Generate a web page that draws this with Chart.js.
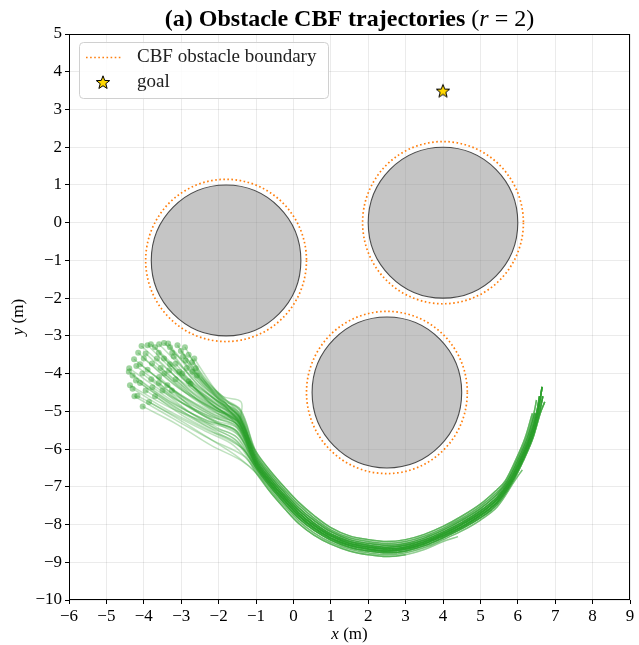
<!DOCTYPE html>
<html>
<head>
<meta charset="utf-8">
<script src="https://cdn.jsdelivr.net/npm/chart.js@4.4.1/dist/chart.umd.min.js"></script>
<style>
  html, body { margin: 0; padding: 0; background: #fff; }
  canvas { display: block; }
</style>
</head>
<body>
<canvas id="chart" width="639" height="645"></canvas>
<script>
// axes
const xRange = [-6, 9];
const yRange = [-10, 5];

// obstacles (centre, radius) and the CBF boundary around them
const obstacleX = [-1.8, 4, 2.5];
const obstacleY = [-1, 0, -4.5];
const obstacleR = [2, 2, 2];
const boundaryR = [2.15, 2.15, 2.15];

const goal = [4, 3.5];

// end parts of the trajectories (the long arc)
const tails = [
  // 0 centre of the band
  [[-1.0,-6.35],[-0.6,-6.88],[-0.25,-7.28],[0.15,-7.7],[0.55,-8.02],[1.0,-8.3],[1.5,-8.5],[2.0,-8.6],[2.5,-8.65],[3.0,-8.6],[3.5,-8.46],[4.0,-8.25],[4.5,-8.0],[5.0,-7.7],[5.45,-7.33],[5.8,-6.85],[6.08,-6.3],[6.33,-5.72],[6.53,-5.05],[6.65,-4.35]],
  // 1 inner +1
  [[-1.0,-6.28],[-0.6,-6.81],[-0.25,-7.21],[0.15,-7.63],[0.55,-7.96],[1.0,-8.25],[1.5,-8.45],[2.0,-8.55],[2.5,-8.6],[3.0,-8.55],[3.5,-8.41],[4.0,-8.2],[4.5,-7.95],[5.0,-7.64],[5.45,-7.27],[5.77,-6.85],[6.05,-6.3],[6.3,-5.72],[6.5,-5.05],[6.58,-4.6]],
  // 2 outer -1
  [[-1.0,-6.42],[-0.6,-6.95],[-0.25,-7.35],[0.15,-7.77],[0.55,-8.09],[1.0,-8.36],[1.5,-8.55],[2.0,-8.65],[2.5,-8.7],[3.0,-8.65],[3.5,-8.51],[4.0,-8.3],[4.5,-8.06],[5.0,-7.76],[5.45,-7.4],[5.84,-6.85],[6.12,-6.3],[6.37,-5.72],[6.57,-5.05],[6.67,-4.6]],
  // 3 inner +2
  [[-1.0,-6.21],[-0.6,-6.74],[-0.25,-7.14],[0.15,-7.56],[0.55,-7.89],[1.0,-8.19],[1.5,-8.4],[2.0,-8.5],[2.5,-8.55],[3.0,-8.5],[3.5,-8.36],[4.0,-8.15],[4.5,-7.89],[5.0,-7.58],[5.45,-7.2],[5.73,-6.85],[6.01,-6.3],[6.26,-5.72],[6.46,-5.05]],
  // 4 outer -2
  [[-1.0,-6.49],[-0.6,-7.02],[-0.25,-7.42],[0.15,-7.84],[0.55,-8.15],[1.0,-8.41],[1.5,-8.6],[2.0,-8.7],[2.5,-8.75],[3.0,-8.7],[3.5,-8.56],[4.0,-8.35],[4.5,-8.11],[5.0,-7.82],[5.45,-7.46],[5.87,-6.85],[6.15,-6.3],[6.4,-5.72],[6.6,-5.05],[6.72,-4.75]],
  // 5 inner +3
  [[-1.0,-6.14],[-0.6,-6.67],[-0.25,-7.07],[0.15,-7.49],[0.55,-7.83],[1.0,-8.14],[1.5,-8.35],[2.0,-8.45],[2.5,-8.5],[3.0,-8.45],[3.5,-8.31],[4.0,-8.1],[4.5,-7.84],[5.0,-7.52],[5.45,-7.14],[5.7,-6.85],[5.98,-6.3],[6.23,-5.72],[6.43,-5.05],[6.5,-4.7]],
  // 6 outer -3, stops on the rising arm
  [[-1.0,-6.56],[-0.6,-7.09],[-0.25,-7.49],[0.15,-7.91],[0.55,-8.22],[1.0,-8.47],[1.5,-8.65],[2.0,-8.75],[2.5,-8.8],[3.0,-8.75],[3.5,-8.61],[4.0,-8.4],[4.5,-8.17],[5.0,-7.88],[5.45,-7.53],[5.91,-6.85],[6.12,-6.55]],
  // 7 inner +4
  [[-1.0,-6.07],[-0.6,-6.6],[-0.25,-7.0],[0.15,-7.42],[0.55,-7.76],[1.0,-8.08],[1.5,-8.3],[2.0,-8.4],[2.5,-8.45],[3.0,-8.4],[3.5,-8.26],[4.0,-8.05],[4.5,-7.78],[5.0,-7.46],[5.45,-7.07],[5.66,-6.85],[5.94,-6.3],[6.19,-5.72],[6.39,-5.05]],
  // 8 outer -4, stops after the bottom
  [[-1.0,-6.63],[-0.6,-7.16],[-0.25,-7.56],[0.15,-7.98],[0.55,-8.28],[1.0,-8.52],[1.5,-8.7],[2.0,-8.8],[2.5,-8.85],[3.0,-8.8],[3.5,-8.66],[4.0,-8.45],[4.4,-8.32]],
  // 9 outer -4, stops at the bottom
  [[-1.0,-6.63],[-0.6,-7.16],[-0.25,-7.56],[0.15,-7.98],[0.55,-8.28],[1.0,-8.52],[1.5,-8.7],[2.0,-8.8],[2.5,-8.85],[3.0,-8.8]],
  // 10 outer -2, stops near x = 5.3
  [[-1.0,-6.49],[-0.6,-7.02],[-0.25,-7.42],[0.15,-7.84],[0.55,-8.15],[1.0,-8.41],[1.5,-8.6],[2.0,-8.7],[2.5,-8.75],[3.0,-8.7],[3.5,-8.56],[4.0,-8.35],[4.5,-8.11],[5.0,-7.82],[5.3,-7.62]],
  // 11 outer -1, stops high on the arm
  [[-1.0,-6.42],[-0.6,-6.95],[-0.25,-7.35],[0.15,-7.77],[0.55,-8.09],[1.0,-8.36],[1.5,-8.55],[2.0,-8.65],[2.5,-8.7],[3.0,-8.65],[3.5,-8.51],[4.0,-8.3],[4.5,-8.06],[5.0,-7.76],[5.45,-7.4],[5.84,-6.85],[6.12,-6.3],[6.37,-5.72],[6.5,-5.3]]
];

// start of each trajectory: [tail index, start point, points until the arc]
const heads = [
  [0, [-4.06,-3.27], [-3.0,-4.2], [-2.0,-4.85], [-1.45,-5.15]],
  [1, [-3.81,-3.22], [-2.9,-4.1], [-2.0,-4.75], [-1.45,-5.05]],
  [5, [-3.59,-3.22], [-2.8,-4.0], [-1.95,-4.7], [-1.42,-4.95]],
  [7, [-3.46,-3.19], [-2.7,-3.9], [-1.9,-4.6], [-1.4,-4.75], [-1.4,-5.3]],
  [3, [-3.01,-3.40], [-2.4,-4.2], [-1.8,-4.8], [-1.45,-5.1]],
  [0, [-3.24,-3.45], [-2.6,-4.25], [-1.9,-4.85], [-1.48,-5.2]],
  [11, [-4.26,-3.62], [-3.2,-4.45], [-2.2,-5.0], [-1.5,-5.3]],
  [2, [-4.39,-3.86], [-3.3,-4.6], [-2.3,-5.1], [-1.52,-5.4]],
  [1, [-2.71,-3.70], [-2.2,-4.4], [-1.7,-4.9], [-1.42,-5.2]],
  [0, [-2.61,-3.86], [-2.15,-4.5], [-1.7,-5.0], [-1.45,-5.3]],
  [2, [-2.58,-4.05], [-2.1,-4.6], [-1.65,-5.05], [-1.42,-5.35]],
  [4, [-4.37,-4.31], [-3.3,-4.9], [-2.3,-5.3], [-1.55,-5.55]],
  [6, [-4.17,-4.59], [-3.2,-5.1], [-2.3,-5.55], [-1.6,-5.9]],
  [9, [-4.03,-4.87], [-3.1,-5.35], [-2.2,-5.9], [-1.4,-6.3]],
  [11, [-2.75,-4.27], [-2.2,-4.8], [-1.7,-5.15], [-1.45,-5.45]],
  [8, [-3.86,-4.75], [-3.0,-5.25], [-2.2,-5.75], [-1.5,-6.2]],
  [1, [-4.04,-4.0], [-3.1,-4.7], [-2.2,-5.15], [-1.5,-5.4]],
  [0, [-3.78,-3.73], [-2.9,-4.45], [-2.0,-5.0], [-1.45,-5.25]],
  [2, [-3.59,-4.09], [-2.8,-4.75], [-2.0,-5.2], [-1.5,-5.45]],
  [3, [-3.32,-3.91], [-2.6,-4.6], [-1.9,-5.05], [-1.45,-5.3]],
  [1, [-3.15,-3.74], [-2.5,-4.45], [-1.85,-4.95], [-1.45,-5.2]],
  [5, [-2.88,-3.65], [-2.3,-4.35], [-1.75,-4.85], [-1.43,-5.15]],
  [0, [-2.97,-4.0], [-2.4,-4.6], [-1.8,-5.05], [-1.45,-5.35]],
  [7, [-3.95,-3.47], [-3.0,-4.3], [-2.1,-4.9], [-1.48,-5.2]],
  [3, [-3.46,-3.60], [-2.7,-4.35], [-1.95,-4.9], [-1.45,-5.2]],
  [10, [-4.21,-4.18], [-3.2,-4.85], [-2.3,-5.4], [-1.55,-5.75]],
  [4, [-3.77,-4.36], [-2.9,-4.95], [-2.1,-5.45], [-1.5,-5.8]],
  [2, [-3.37,-4.31], [-2.7,-4.9], [-2.0,-5.3], [-1.5,-5.55]],
  [1, [-3.7,-3.3], [-2.85,-4.1], [-2.0,-4.75], [-1.45,-5.1]],
  [7, [-3.1,-3.25], [-2.5,-4.05], [-1.85,-4.7], [-1.42,-5.0]],
  [0, [-4.15,-3.45], [-3.1,-4.35], [-2.15,-4.95], [-1.5,-5.25]],
  [5, [-3.3,-3.3], [-2.6,-4.1], [-1.9,-4.75], [-1.43,-5.05]],
  [3, [-2.8,-3.5], [-2.3,-4.2], [-1.75,-4.75], [-1.42,-5.1]],
  [11, [-3.9,-3.9], [-3.0,-4.6], [-2.1,-5.1], [-1.5,-5.35]],
  [4, [-4.3,-4.05], [-3.3,-4.75], [-2.3,-5.25], [-1.55,-5.5]],
  [0, [-3.6,-3.45], [-2.8,-4.25], [-2.0,-4.85], [-1.46,-5.18]],
  [1, [-3.05,-3.95], [-2.45,-4.6], [-1.85,-5.05], [-1.46,-5.3]],
  [6, [-3.5,-4.45], [-2.8,-5.0], [-2.0,-5.45], [-1.5,-5.7]],
  [2, [-4.1,-3.75], [-3.1,-4.5], [-2.2,-5.05], [-1.5,-5.3]],
  [0, [-2.7,-3.95], [-2.2,-4.55], [-1.7,-5.0], [-1.44,-5.28]],
  [3, [-3.9,-3.25], [-2.95,-4.15], [-2.0,-4.8], [-1.47,-5.1]],
  [7, [-3.35,-3.2], [-2.65,-4.0], [-1.9,-4.65], [-1.42,-4.95]],
  [1, [-3.2,-3.55], [-2.55,-4.3], [-1.85,-4.85], [-1.45,-5.15]],
  [0, [-2.95,-3.55], [-2.35,-4.3], [-1.8,-4.85], [-1.44,-5.15]],
  [5, [-2.65,-3.6], [-2.15,-4.35], [-1.7,-4.9], [-1.42,-5.2]],
  [2, [-4.0,-3.6], [-3.05,-4.4], [-2.1,-4.95], [-1.5,-5.25]],
  [0, [-3.65,-3.6], [-2.8,-4.4], [-2.0,-4.95], [-1.47,-5.22]],
  [11, [-3.3,-3.75], [-2.6,-4.5], [-1.9,-5.0], [-1.45,-5.3]],
  [1, [-2.85,-3.85], [-2.3,-4.5], [-1.75,-5.0], [-1.43,-5.3]],
  [2, [-4.2,-3.8], [-3.2,-4.55], [-2.2,-5.1], [-1.5,-5.35]],
  [0, [-3.8,-4.15], [-2.95,-4.8], [-2.1,-5.25], [-1.5,-5.45]],
  [3, [-3.45,-4.0], [-2.7,-4.65], [-1.95,-5.1], [-1.47,-5.38]],
  [4, [-3.15,-4.15], [-2.5,-4.75], [-1.85,-5.15], [-1.45,-5.42]],
  [2, [-2.8,-4.2], [-2.25,-4.75], [-1.72,-5.15], [-1.43,-5.45]],
  [9, [-4.3,-4.4], [-3.3,-5.0], [-2.3,-5.5], [-1.5,-5.85]],
  [10, [-3.95,-4.45], [-3.05,-5.0], [-2.15,-5.5], [-1.4,-5.95]],
  [4, [-3.6,-4.25], [-2.85,-4.85], [-2.05,-5.3], [-1.5,-5.55]],
  [2, [-3.25,-4.45], [-2.6,-5.0], [-1.9,-5.4], [-1.45,-5.65]],
  [0, [-4.4,-3.95], [-3.35,-4.7], [-2.3,-5.25], [-1.52,-5.5]],
  [4, [-4.1,-4.25], [-3.15,-4.9], [-2.2,-5.4], [-1.5,-5.7]],
  [1, [-2.9,-3.3], [-2.4,-4.1], [-1.8,-4.7], [-1.42,-5.0]],
  [0, [-3.55,-3.85], [-2.75,-4.55], [-1.95,-5.05], [-1.46,-5.3]],
  [8, [-4.25,-4.6], [-3.2,-5.2], [-2.2,-5.75], [-1.3,-6.2]],
  [6, [-3.7,-4.6], [-2.9,-5.15], [-2.05,-5.6], [-1.35,-6.0]]
];

const SERIF = "'Liberation Serif', 'DejaVu Serif', serif";
const GREEN = '44,160,44';
const ORANGE = '#ff7f0e';

// filled star marker for the goal
function makeStar(size) {
  const c = document.createElement('canvas');
  c.width = size; c.height = size;
  const g = c.getContext('2d');
  const R = size / 2 - 1, r = R * 0.42, m = size / 2;
  g.beginPath();
  for (let i = 0; i < 10; i++) {
    const a = -Math.PI / 2 + i * Math.PI / 5;
    const rr = i % 2 ? r : R;
    g.lineTo(m + rr * Math.cos(a), m + 0.8 + rr * Math.sin(a));
  }
  g.closePath();
  g.fillStyle = '#ffd700';
  g.fill();
  g.strokeStyle = '#000';
  g.lineWidth = 1;
  g.stroke();
  return c;
}
const star = makeStar(16);

const trajSets = heads.map(h => {
  const pts = h.slice(1).concat(tails[h[0]]);
  return {
    data: pts.map(p => ({ x: p[0], y: p[1] })),
    showLine: true,
    tension: 0.35,
    borderColor: `rgba(${GREEN},0.3)`,
    borderWidth: 1.5,
    pointRadius: c => c.dataIndex === 0 ? 3 : 0,
    pointBackgroundColor: `rgba(${GREEN},0.45)`,
    pointBorderWidth: 0,
    pointHoverRadius: 0
  };
});

function ellipse(ctx, x, y, cx, cy, r) {
  const px = x.getPixelForValue(cx), py = y.getPixelForValue(cy);
  const rx = x.getPixelForValue(cx + r) - px;
  const ry = py - y.getPixelForValue(cy + r);
  ctx.beginPath();
  ctx.ellipse(px, py, rx, ry, 0, 0, Math.PI * 2);
}

function drawRuns(ctx, runs, x, y, align) {
  let w = 0;
  runs.forEach(r => { ctx.font = r[1]; w += ctx.measureText(r[0]).width; });
  let cx = align === 'center' ? x - w / 2 : x;
  ctx.textAlign = 'left';
  runs.forEach(r => { ctx.font = r[1]; ctx.fillText(r[0], cx, y); cx += ctx.measureText(r[0]).width; });
}

const decor = {
  id: 'decor',
  beforeDatasetsDraw(chart) {
    const { ctx, scales: { x, y } } = chart;
    const a = chart.chartArea;
    ctx.save();
    ctx.beginPath();
    ctx.rect(a.left, a.top, a.right - a.left, a.bottom - a.top);
    ctx.clip();
    obstacleX.forEach((cx, i) => {
      ellipse(ctx, x, y, cx, obstacleY[i], obstacleR[i]);
      ctx.fillStyle = 'rgba(128,128,128,0.46)';
      ctx.fill();
      ctx.strokeStyle = '#4a4a4a';
      ctx.lineWidth = 1.1;
      ctx.stroke();
      ellipse(ctx, x, y, cx, obstacleY[i], boundaryR[i]);
      ctx.setLineDash([1.6, 2.5]);
      ctx.strokeStyle = ORANGE;
      ctx.lineWidth = 1.7;
      ctx.stroke();
      ctx.setLineDash([]);
    });
    ctx.restore();
  },
  afterDraw(chart) {
    const { ctx } = chart;
    const a = chart.chartArea;
    const mid = (a.left + a.right) / 2;
    ctx.save();
    ctx.strokeStyle = '#000';
    ctx.lineWidth = 1;
    ctx.strokeRect(Math.round(a.left) + 0.5, Math.round(a.top) + 0.5,
      Math.round(a.right - a.left) - 1, Math.round(a.bottom - a.top) - 1);

    ctx.fillStyle = '#000';
    ctx.textBaseline = 'alphabetic';
    drawRuns(ctx, [
      ['(a) Obstacle CBF trajectories ', `bold 24px ${SERIF}`],
      ['(', `24px ${SERIF}`],
      ['r', `italic 24px ${SERIF}`],
      [' = 2)', `24px ${SERIF}`]
    ], mid, 26, 'center');

    drawRuns(ctx, [['x', `italic 17px ${SERIF}`], [' (m)', `17px ${SERIF}`]], mid, 639, 'center');
    ctx.save();
    ctx.translate(23, (a.top + a.bottom) / 2);
    ctx.rotate(-Math.PI / 2);
    drawRuns(ctx, [['y', `italic 17px ${SERIF}`], [' (m)', `17px ${SERIF}`]], 0, 0, 'center');
    ctx.restore();

    // legend
    const lx = 79, ly = 42, lw = 249, lh = 56;
    ctx.beginPath();
    ctx.roundRect(lx + 0.5, ly + 0.5, lw, lh, 4);
    ctx.fillStyle = 'rgba(255,255,255,0.85)';
    ctx.fill();
    ctx.strokeStyle = '#d0d0d0';
    ctx.stroke();
    ctx.beginPath();
    ctx.moveTo(86, 57.5);
    ctx.lineTo(122, 57.5);
    ctx.setLineDash([1.6, 2.5]);
    ctx.strokeStyle = ORANGE;
    ctx.lineWidth = 1.7;
    ctx.stroke();
    ctx.setLineDash([]);
    ctx.drawImage(star, 103 - star.width / 2, 82 - star.height / 2);
    ctx.fillStyle = '#222';
    ctx.textBaseline = 'middle';
    ctx.font = `19px ${SERIF}`;
    ctx.fillText('CBF obstacle boundary', 137, 57);
    ctx.fillText('goal', 137, 82);
    ctx.restore();
  }
};

const fmt = v => v < 0 ? '\u2212' + Math.abs(v) : String(v);

new Chart(document.getElementById('chart'), {
  type: 'scatter',
  data: {
    datasets: trajSets.concat([{
      data: [{ x: goal[0], y: goal[1] }],
      pointStyle: star,
      pointRadius: 8,
      pointHoverRadius: 8
    }])
  },
  options: {
    responsive: false,
    animation: false,
    events: [],
    layout: { padding: { top: 34, right: 6, left: 0, bottom: 0 } },
    plugins: { legend: { display: false }, tooltip: { enabled: false }, title: { display: false } },
    scales: {
      x: {
        type: 'linear',
        min: xRange[0], max: xRange[1],
        afterFit: s => { s.height = 45; },
        ticks: { stepSize: 1, color: '#000', padding: 2, font: { family: SERIF, size: 17 }, callback: fmt, maxRotation: 0, autoSkip: false },
        grid: { color: 'rgba(0,0,0,0.1)', lineWidth: 0.8, tickColor: '#000', tickLength: 4, tickWidth: 1 },
        border: { display: false }
      },
      y: {
        type: 'linear',
        min: yRange[0], max: yRange[1],
        afterFit: s => { s.width = 69; },
        ticks: { stepSize: 1, color: '#000', padding: 3, font: { family: SERIF, size: 17 }, callback: fmt, autoSkip: false },
        grid: { color: 'rgba(0,0,0,0.1)', lineWidth: 0.8, tickColor: '#000', tickLength: 4, tickWidth: 1 },
        border: { display: false }
      }
    }
  },
  plugins: [decor]
});
</script>
</body>
</html>
